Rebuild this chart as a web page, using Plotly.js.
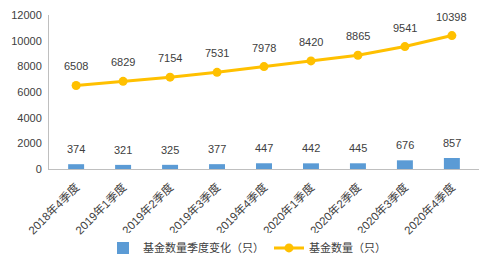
<!DOCTYPE html>
<html><head><meta charset="utf-8">
<script src="https://cdn.plot.ly/plotly-3.0.1.min.js"></script>
<style>html,body{margin:0;padding:0;background:#fff}#c{width:494px;height:268px}</style>
</head><body><div id="c"></div>
<script>
const categories = ["2018年4季度","2019年1季度","2019年2季度","2019年3季度","2019年4季度","2020年1季度","2020年2季度","2020年3季度","2020年4季度"];
const quarterChange = [374,321,325,377,447,442,445,676,857];
const fundCount = [6508,6829,7154,7531,7978,8420,8865,9541,10398];
const yTicks = [0,2000,4000,6000,8000,10000,12000];

const FONT = "Liberation Sans, 'Noto Sans CJK SC', sans-serif";
const TXT = "#404040";

const traces = [
  {type:'bar', x:categories, y:quarterChange, name:'基金数量季度变化（只）',
   marker:{color:'#5B9BD5'}, width:0.34, hoverinfo:'none'},
  {type:'scatter', mode:'lines+markers', x:categories, y:fundCount, name:'基金数量（只）',
   line:{color:'#FFC000', width:3}, marker:{color:'#FFC000', size:9}, hoverinfo:'none'}
];

const annotations = [];
categories.forEach((c,i)=>{
  annotations.push({x:c, y:quarterChange[i], text:String(quarterChange[i]), showarrow:false,
    yshift:15, font:{family:FONT, size:11, color:TXT}});
  annotations.push({x:c, y:fundCount[i], text:String(fundCount[i]), showarrow:false,
    yshift:19, font:{family:FONT, size:11, color:TXT}});
});

const layout = {
  width:494, height:268,
  margin:{l:49, r:15, t:15, b:99},
  paper_bgcolor:'#fff', plot_bgcolor:'#fff',
  font:{family:FONT, size:11, color:TXT},
  showlegend:true,
  legend:{orientation:'h', x:0.5, xanchor:'center', xref:'container', y:0.075, yref:'container', yanchor:'middle',
    font:{family:FONT, size:11, color:TXT}, itemwidth:30, tracegroupgap:0},
  xaxis:{type:'category', tickangle:-45, showline:true, linecolor:'#bfbfbf', linewidth:1,
    ticks:'', showgrid:false, zeroline:false, ticklabelstandoff:6, tickfont:{family:FONT, size:11.5, color:TXT}},
  yaxis:{range:[0,12000], tickvals:yTicks, ticktext:yTicks.map(String), showline:true, linecolor:'#bfbfbf',
    linewidth:1, ticks:'', showgrid:false, zeroline:false, ticklabelstandoff:4,
    tickfont:{family:FONT, size:11, color:TXT}},
  bargap:0.66,
  annotations:annotations
};
Plotly.newPlot('c', traces, layout, {staticPlot:true, displayModeBar:false});
</script></body></html>
